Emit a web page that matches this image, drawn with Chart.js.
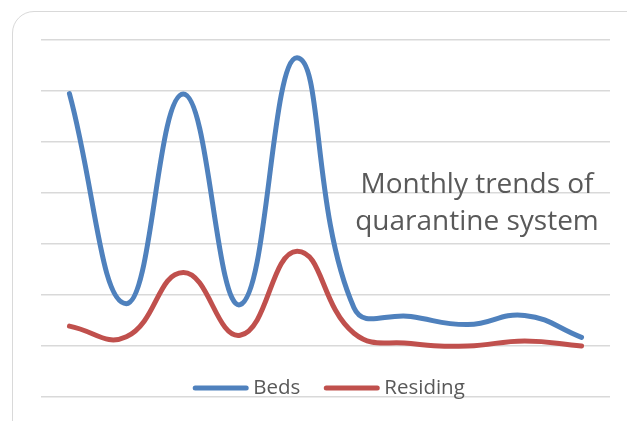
<!DOCTYPE html>
<html>
<head>
<meta charset="utf-8">
<script src="https://cdn.jsdelivr.net/npm/chart.js@4/dist/chart.umd.min.js"></script>
<style>
  html, body { margin: 0; padding: 0; background: #ffffff; }
  #wrap { position: relative; width: 627px; height: 421px; overflow: hidden; }
  #frame {
    position: absolute; left: 12px; top: 11px; width: 640px; height: 440px;
    border: 1.5px solid #d9d9d9; border-radius: 22px; box-sizing: border-box;
  }
  canvas { position: absolute; left: 0; top: 0; }
</style>
</head>
<body>
<div id="wrap">
  <div id="frame"></div>
  <canvas id="c" width="627" height="421"></canvas>
</div>
<script>
// Monthly quarantine figures
const months = ['M1', 'M2', 'M3', 'M4', 'M5', 'M6', 'M7', 'M8', 'M9', 'M10'];
const beds = [59.5, 18.3, 59.4, 18.1, 66.5, 17.5, 15.8, 14.2, 16.0, 11.7];
const residing = [13.9, 11.8, 24.4, 12.1, 28.6, 12.5, 10.5, 10.0, 11.0, 10.0];
const titleLines = ['Monthly trends of', 'quarantine system'];
const seriesNames = ['Beds', 'Residing'];

const BLUE = '#4f81bd';
const RED = '#c0504d';
const TEXT = '#595959';
const FONT = '"Open Sans", "DejaVu Sans", sans-serif';

// Legend and title sit inside the plot area
const overlayText = {
  id: 'overlayText',
  afterDraw(chart) {
    const ctx = chart.ctx;
    ctx.save();

    // title, two centred lines on the right side
    ctx.fillStyle = TEXT;
    ctx.font = '28px ' + FONT;
    ctx.textAlign = 'center';
    ctx.textBaseline = 'alphabetic';
    const tx = 477;
    titleLines.forEach((line, i) => ctx.fillText(line, tx, 193 + i * 37));

    // legend
    ctx.font = '20.5px ' + FONT;
    ctx.textAlign = 'left';
    const sampleW = 55, gapAfterSample = 5, gapBetween = 24;
    const items = chart.data.datasets.map(ds => ({
      label: ds.label, color: ds.borderColor, w: ctx.measureText(ds.label).width
    }));
    let total = 0;
    items.forEach((it, i) => { total += sampleW + gapAfterSample + it.w + (i ? gapBetween : 0); });
    let x = 329 - total / 2;
    const ly = 388;
    items.forEach((it, i) => {
      if (i) x += gapBetween;
      ctx.strokeStyle = it.color;
      ctx.lineWidth = 5;
      ctx.lineCap = 'round';
      ctx.beginPath();
      ctx.moveTo(x + 2, ly);
      ctx.lineTo(x + sampleW - 2, ly);
      ctx.stroke();
      x += sampleW + gapAfterSample;
      ctx.fillStyle = TEXT;
      ctx.fillText(it.label, x, ly + 6);
      x += it.w;
    });
    ctx.restore();
  }
};

new Chart(document.getElementById('c'), {
  type: 'line',
  data: {
    labels: months,
    datasets: [
      { label: seriesNames[0], data: beds, borderColor: BLUE, backgroundColor: BLUE },
      { label: seriesNames[1], data: residing, borderColor: RED, backgroundColor: RED }
    ]
  },
  options: {
    responsive: false,
    devicePixelRatio: 1,
    animation: false,
    layout: { padding: { left: 41, right: 17, top: 40, bottom: 24 } },
    elements: {
      line: { borderWidth: 5, tension: 0.45, capBezierPoints: false, borderCapStyle: 'round', borderJoinStyle: 'round' },
      point: { radius: 0, hoverRadius: 0 }
    },
    scales: {
      x: { display: false, offset: true },
      y: {
        min: 0, max: 70,
        ticks: { stepSize: 10, display: false },
        grid: { color: '#d9d9d9', lineWidth: 1.5, drawTicks: false },
        border: { display: false }
      }
    },
    plugins: {
      legend: { display: false },
      title: { display: false },
      tooltip: { enabled: false }
    }
  },
  plugins: [overlayText]
});
</script>
</body>
</html>
